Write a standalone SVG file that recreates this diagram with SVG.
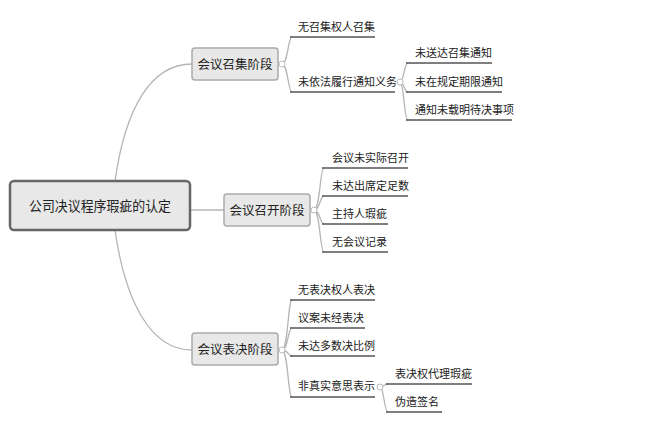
<svg xmlns="http://www.w3.org/2000/svg" width="660" height="425" viewBox="0 0 660 425">
<style>
text{font-family:"Noto Sans CJK SC","Noto Sans",sans-serif;fill:#222}
.t{font-size:11px}
.p{font-size:12.5px}
.box{fill:#e8e8e8;stroke:#aaa;stroke-width:1.5}
.c{fill:none;stroke:#b5b5b5;stroke-width:1.3}
.u{stroke:#555;stroke-width:1.5}
.k{fill:#fff;stroke:#bbb;stroke-width:1}
</style>
<rect width="660" height="425" fill="#fff"/>
<g id="connectors">
<path class="c" d="M115,181 C125,110 150,64 192,64"/>
<path class="c" d="M190,210 L224,210"/>
<path class="c" d="M115,230 C125,300 150,350 192,350"/>
<path class="c" d="M282,64 C288,64 288,37 292,37 M282,64 C288,64 288,92 292,92"/>
<path class="c" d="M400,82 C404,82 404,63 408,63 M400,82 C404,82 404,92 408,92 M400,82 C404,82 404,120 408,120"/>
<path class="c" d="M314,210 C320,210 320,168 324,168 M314,210 C320,210 320,196 324,196 M314,210 C320,210 320,224 324,224 M314,210 C320,210 320,252 324,252"/>
<path class="c" d="M282,350 C288,350 288,300 292,300 M282,350 C288,350 288,328 292,328 M282,350 C288,350 288,356 292,356 M282,350 C288,350 288,397 292,397"/>
<path class="c" d="M380,387 C384,387 384,384 388,384 M380,387 C384,387 384,412 388,412"/>
</g>
<g id="root"><rect x="10" y="181" width="180" height="49" rx="4" fill="#e8e8e8" stroke="#666" stroke-width="2.5"/><text x="100" y="211" text-anchor="middle" style="font-size:14px" textLength="142" lengthAdjust="spacingAndGlyphs">公司决议程序瑕疵的认定</text></g>
<g id="p1"><rect class="box" x="192" y="48" width="86" height="32" rx="3"/><text class="p" x="235" y="69" text-anchor="middle">会议召集阶段</text><circle class="k" cx="282" cy="64" r="3"/></g>
<g id="p2"><rect class="box" x="224" y="194" width="86" height="32" rx="3"/><text class="p" x="267" y="215" text-anchor="middle">会议召开阶段</text><circle class="k" cx="314" cy="210" r="3"/></g>
<g id="p3"><rect class="box" x="192" y="333" width="86" height="32" rx="3"/><text class="p" x="235" y="354" text-anchor="middle">会议表决阶段</text><circle class="k" cx="282" cy="350" r="3"/></g>
<g id="leaves">
<g id="n1"><text class="t" x="298" y="31">无召集权人召集</text><line class="u" x1="290" y1="37" x2="375" y2="37"/></g>
<g id="n2"><text class="t" x="298" y="86">未依法履行通知义务</text><line class="u" x1="290" y1="92" x2="395" y2="92"/><circle class="k" cx="400" cy="82" r="3"/></g>
<g id="n3"><text class="t" x="415" y="57">未送达召集通知</text><line class="u" x1="406" y1="63" x2="492" y2="63"/></g>
<g id="n4"><text class="t" x="415" y="86">未在规定期限通知</text><line class="u" x1="406" y1="92" x2="502" y2="92"/></g>
<g id="n5"><text class="t" x="415" y="114">通知未载明待决事项</text><line class="u" x1="406" y1="120" x2="512" y2="120"/></g>
<g id="n6"><text class="t" x="332" y="162">会议未实际召开</text><line class="u" x1="322" y1="168" x2="408" y2="168"/></g>
<g id="n7"><text class="t" x="332" y="190">未达出席定足数</text><line class="u" x1="322" y1="196" x2="408" y2="196"/></g>
<g id="n8"><text class="t" x="332" y="218">主持人瑕疵</text><line class="u" x1="322" y1="224" x2="388" y2="224"/></g>
<g id="n9"><text class="t" x="332" y="246">无会议记录</text><line class="u" x1="322" y1="252" x2="388" y2="252"/></g>
<g id="n10"><text class="t" x="298" y="294">无表决权人表决</text><line class="u" x1="290" y1="300" x2="375" y2="300"/></g>
<g id="n11"><text class="t" x="298" y="322">议案未经表决</text><line class="u" x1="290" y1="328" x2="365" y2="328"/></g>
<g id="n12"><text class="t" x="298" y="350">未达多数决比例</text><line class="u" x1="290" y1="356" x2="375" y2="356"/></g>
<g id="n13"><text class="t" x="298" y="390">非真实意思表示</text><line class="u" x1="290" y1="397" x2="375" y2="397"/><circle class="k" cx="380" cy="387" r="3"/></g>
<g id="n14"><text class="t" x="395" y="378">表决权代理瑕疵</text><line class="u" x1="386" y1="384" x2="472" y2="384"/></g>
<g id="n15"><text class="t" x="395" y="406">伪造签名</text><line class="u" x1="386" y1="412" x2="442" y2="412"/></g>
</g>
</svg>
